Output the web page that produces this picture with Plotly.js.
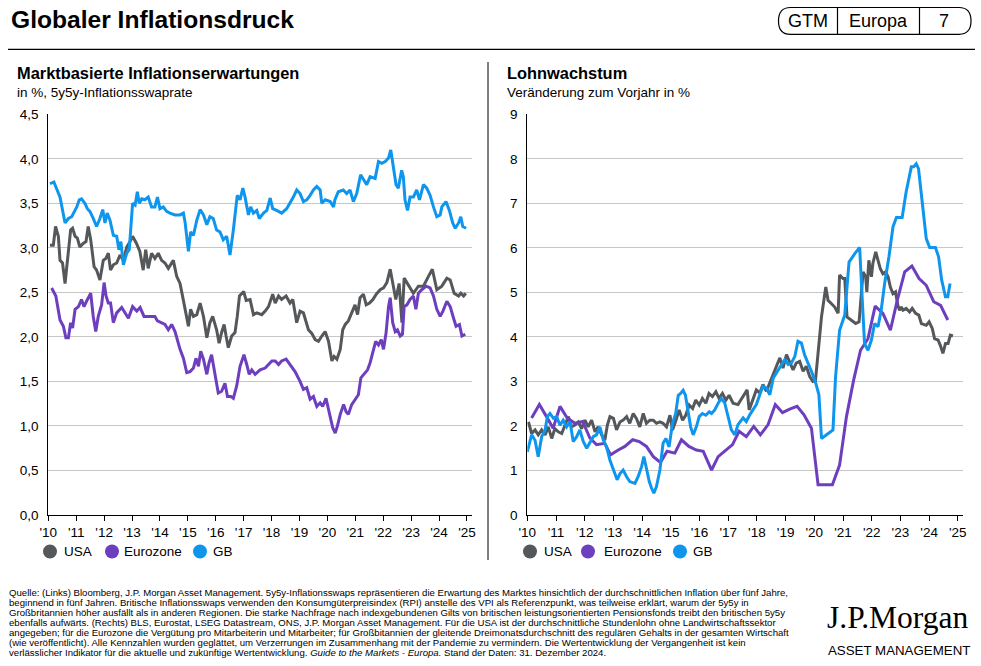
<!DOCTYPE html>
<html><head><meta charset="utf-8">
<script src="https://cdn.plot.ly/plotly-3.0.1.min.js"></script>
<style>html,body{margin:0;padding:0;background:#fff}#chart{width:981px;height:666px}</style>
</head><body><div id="chart"></div>
<script>
// ---------- tick labels ----------
const tickYears = [2010,2011,2012,2013,2014,2015,2016,2017,2018,2019,2020,2021,2022,2023,2024,2025];
const tickLabels = ["'10","'11","'12","'13","'14","'15","'16","'17","'18","'19","'20","'21","'22","'23","'24","'25"];
const seriesNames = ["USA","Eurozone","GB"];

// ---------- Left: 5y5y inflation swap rates (%) ----------
const swapGbX = [2010.06,2010.20,2010.42,2010.60,2010.72,2010.84,2011.02,2011.11,2011.19,2011.31,2011.40,2011.49,2011.61,2011.73,2011.85,2011.95,2012.03,2012.11,2012.21,2012.33,2012.45,2012.53,2012.60,2012.69,2012.81,2012.90,2013.02,2013.11,2013.19,2013.26,2013.35,2013.46,2013.58,2013.70,2013.82,2013.91,2014.00,2014.12,2014.24,2014.36,2014.54,2014.72,2014.84,2014.90,2015.02,2015.10,2015.20,2015.32,2015.44,2015.56,2015.68,2015.79,2015.91,2016.03,2016.15,2016.27,2016.39,2016.51,2016.63,2016.77,2016.87,2016.97,2017.05,2017.17,2017.25,2017.35,2017.47,2017.56,2017.71,2017.83,2017.95,2018.04,2018.18,2018.36,2018.54,2018.66,2018.78,2018.90,2019.02,2019.14,2019.26,2019.38,2019.50,2019.62,2019.74,2019.80,2019.92,2020.10,2020.22,2020.27,2020.39,2020.57,2020.69,2020.81,2020.93,2021.05,2021.19,2021.31,2021.41,2021.53,2021.71,2021.83,2021.95,2022.07,2022.19,2022.27,2022.37,2022.46,2022.54,2022.66,2022.72,2022.78,2022.87,2022.96,2023.08,2023.20,2023.30,2023.44,2023.56,2023.68,2023.80,2023.92,2024.04,2024.10,2024.25,2024.37,2024.49,2024.58,2024.70,2024.78,2024.85,2024.97];
const swapGbY = [3.72,3.74,3.57,3.28,3.33,3.35,3.46,3.54,3.55,3.50,3.44,3.41,3.33,3.24,3.33,3.43,3.28,3.39,3.31,3.14,3.13,2.98,3.07,2.81,2.94,2.98,3.50,3.48,3.63,3.50,3.55,3.54,3.57,3.46,3.46,3.57,3.44,3.46,3.41,3.39,3.37,3.37,3.39,3.29,2.96,3.18,3.14,3.31,3.43,3.37,3.26,3.35,3.33,3.20,3.18,3.09,3.13,2.92,3.20,3.59,3.54,3.67,3.57,3.37,3.46,3.39,3.42,3.33,3.39,3.42,3.56,3.44,3.42,3.39,3.44,3.50,3.57,3.65,3.61,3.52,3.54,3.59,3.65,3.69,3.65,3.50,3.54,3.52,3.46,3.54,3.63,3.65,3.61,3.65,3.52,3.61,3.82,3.76,3.71,3.80,3.78,3.97,3.95,3.97,4.01,4.10,3.87,3.71,3.67,3.87,3.80,3.54,3.42,3.57,3.57,3.65,3.54,3.71,3.67,3.59,3.46,3.35,3.37,3.46,3.52,3.42,3.28,3.22,3.28,3.35,3.24,3.22];

const swapUsaX = [2010.06,2010.18,2010.26,2010.36,2010.42,2010.51,2010.60,2010.72,2010.80,2010.87,2010.96,2011.04,2011.13,2011.25,2011.35,2011.43,2011.52,2011.64,2011.73,2011.85,2011.97,2012.06,2012.15,2012.23,2012.33,2012.45,2012.57,2012.69,2012.81,2012.93,2013.02,2013.16,2013.28,2013.40,2013.49,2013.58,2013.70,2013.82,2013.94,2014.06,2014.18,2014.30,2014.48,2014.60,2014.72,2014.84,2014.96,2015.02,2015.10,2015.20,2015.32,2015.44,2015.56,2015.68,2015.79,2015.89,2016.03,2016.12,2016.21,2016.30,2016.37,2016.45,2016.57,2016.69,2016.77,2016.85,2017.00,2017.09,2017.23,2017.35,2017.47,2017.65,2017.77,2017.89,2018.04,2018.13,2018.25,2018.36,2018.52,2018.66,2018.76,2018.90,2019.02,2019.14,2019.32,2019.44,2019.56,2019.68,2019.80,2019.92,2020.04,2020.16,2020.24,2020.34,2020.46,2020.55,2020.64,2020.75,2020.87,2020.99,2021.08,2021.17,2021.29,2021.39,2021.51,2021.63,2021.75,2021.89,2022.01,2022.13,2022.25,2022.45,2022.57,2022.67,2022.75,2022.91,2023.08,2023.26,2023.44,2023.62,2023.76,2023.92,2024.10,2024.28,2024.40,2024.54,2024.70,2024.78,2024.88,2024.96];
const swapUsaY = [3.03,3.03,3.24,3.13,2.86,2.83,2.60,2.94,3.20,3.22,3.13,3.11,3.01,3.05,3.07,3.24,3.09,2.79,2.75,2.64,2.86,2.88,2.94,2.75,2.81,2.83,2.92,2.86,3.01,3.07,3.13,3.05,2.96,2.75,2.98,2.77,2.94,2.88,2.94,2.86,2.83,2.77,2.86,2.68,2.60,2.41,2.20,2.12,2.31,2.23,2.25,2.38,2.23,1.99,2.16,2.23,2.08,1.93,2.05,2.14,2.01,1.88,2.01,2.05,2.23,2.46,2.51,2.41,2.42,2.25,2.27,2.25,2.29,2.34,2.48,2.38,2.46,2.42,2.46,2.38,2.42,2.16,2.29,2.27,2.08,2.04,1.97,1.95,2.01,2.06,1.95,1.73,1.78,1.75,1.86,2.08,2.14,2.18,2.27,2.36,2.25,2.44,2.48,2.36,2.38,2.42,2.48,2.53,2.55,2.61,2.76,2.42,2.60,2.16,2.66,2.57,2.49,2.57,2.57,2.68,2.76,2.53,2.57,2.66,2.64,2.49,2.46,2.49,2.46,2.49];

const swapEzX = [2010.12,2010.27,2010.42,2010.54,2010.63,2010.72,2010.80,2010.87,2010.96,2011.08,2011.19,2011.28,2011.37,2011.52,2011.61,2011.70,2011.79,2011.91,2012.00,2012.07,2012.15,2012.23,2012.33,2012.45,2012.63,2012.75,2012.87,2013.02,2013.17,2013.29,2013.43,2013.64,2013.82,2013.91,2014.03,2014.18,2014.30,2014.42,2014.54,2014.72,2014.84,2014.96,2015.08,2015.20,2015.29,2015.38,2015.46,2015.56,2015.68,2015.76,2015.85,2015.97,2016.09,2016.21,2016.33,2016.42,2016.54,2016.63,2016.75,2016.87,2017.01,2017.11,2017.20,2017.29,2017.41,2017.59,2017.77,2018.01,2018.13,2018.25,2018.36,2018.52,2018.66,2018.84,2019.02,2019.14,2019.26,2019.38,2019.50,2019.62,2019.74,2019.83,2019.95,2020.07,2020.19,2020.28,2020.36,2020.46,2020.58,2020.67,2020.75,2020.87,2020.99,2021.11,2021.20,2021.32,2021.44,2021.53,2021.63,2021.73,2021.83,2021.93,2022.01,2022.10,2022.19,2022.25,2022.34,2022.43,2022.51,2022.61,2022.69,2022.75,2022.85,2022.96,2023.08,2023.17,2023.26,2023.38,2023.54,2023.68,2023.80,2023.92,2024.04,2024.14,2024.28,2024.40,2024.52,2024.61,2024.73,2024.82,2024.94];
const swapEzY = [2.55,2.46,2.19,2.12,1.99,1.99,2.16,2.10,2.31,2.34,2.42,2.34,2.40,2.49,2.23,2.06,2.23,2.36,2.61,2.46,2.38,2.38,2.16,2.27,2.33,2.27,2.21,2.34,2.29,2.33,2.23,2.23,2.23,2.18,2.16,2.14,2.08,2.14,2.06,1.86,1.76,1.60,1.61,1.65,1.76,1.67,1.84,1.75,1.58,1.71,1.80,1.60,1.37,1.39,1.48,1.33,1.33,1.31,1.45,1.67,1.80,1.69,1.58,1.63,1.58,1.63,1.65,1.73,1.73,1.69,1.73,1.75,1.69,1.61,1.50,1.41,1.43,1.30,1.33,1.22,1.26,1.22,1.31,1.15,0.98,0.92,1.00,1.13,1.24,1.16,1.13,1.24,1.30,1.35,1.54,1.58,1.63,1.71,1.82,1.95,1.91,1.97,1.86,2.04,2.34,2.44,2.16,2.06,2.08,2.01,2.03,2.34,2.36,2.42,2.46,2.31,2.49,2.53,2.57,2.55,2.46,2.31,2.23,2.29,2.40,2.34,2.21,2.12,2.14,2.01,2.03];

// ---------- Right: wage growth (% y/y) ----------
const wageUsaX = [2010.04,2010.15,2010.27,2010.38,2010.50,2010.62,2010.73,2010.85,2010.96,2011.08,2011.20,2011.31,2011.43,2011.54,2011.66,2011.78,2011.89,2012.01,2012.12,2012.24,2012.36,2012.47,2012.59,2012.70,2012.79,2012.88,2013.00,2013.11,2013.23,2013.34,2013.46,2013.57,2013.69,2013.80,2013.92,2014.04,2014.15,2014.27,2014.39,2014.50,2014.62,2014.73,2014.85,2014.97,2015.06,2015.18,2015.29,2015.41,2015.52,2015.64,2015.76,2015.87,2015.99,2016.10,2016.22,2016.33,2016.45,2016.57,2016.68,2016.80,2016.92,2017.03,2017.17,2017.34,2017.52,2017.66,2017.73,2017.87,2017.98,2018.10,2018.21,2018.33,2018.45,2018.57,2018.68,2018.80,2018.91,2019.03,2019.14,2019.26,2019.37,2019.49,2019.61,2019.72,2019.84,2019.95,2020.04,2020.13,2020.25,2020.40,2020.48,2020.59,2020.71,2020.83,2020.88,2021.00,2021.06,2021.14,2021.29,2021.44,2021.56,2021.64,2021.70,2021.79,2021.83,2021.90,2021.99,2022.04,2022.14,2022.22,2022.30,2022.39,2022.48,2022.57,2022.65,2022.74,2022.83,2022.91,2022.97,2023.03,2023.09,2023.20,2023.32,2023.41,2023.53,2023.64,2023.73,2023.90,2024.00,2024.11,2024.19,2024.31,2024.39,2024.48,2024.57,2024.66,2024.74,2024.83];
const wageUsaY = [2.09,1.83,1.91,1.80,1.91,1.80,1.98,1.72,1.94,1.87,1.83,2.02,2.21,1.98,2.02,2.09,1.94,2.13,1.98,2.13,1.87,1.98,1.80,1.68,2.02,2.21,2.17,1.91,2.09,2.13,2.21,2.06,2.28,2.17,1.98,2.28,2.06,2.13,2.13,2.06,2.09,2.06,1.98,2.24,1.91,2.13,2.36,2.13,2.24,2.47,2.39,2.58,2.47,2.62,2.51,2.73,2.66,2.77,2.62,2.73,2.58,2.69,2.51,2.48,2.66,2.81,2.36,2.59,2.81,2.74,2.93,2.78,2.96,3.15,3.34,3.53,3.30,3.60,3.45,3.26,3.41,3.45,3.23,3.34,3.11,3.00,3.02,3.70,4.45,5.12,4.82,4.75,4.67,4.53,5.39,5.31,5.31,4.45,4.38,4.30,4.34,5.05,5.46,5.35,5.01,5.72,5.35,5.65,5.91,5.72,5.53,5.42,5.46,5.35,5.12,4.97,5.01,4.71,4.60,4.67,4.60,4.64,4.56,4.64,4.53,4.49,4.30,4.26,4.34,4.19,3.96,3.93,3.81,3.63,3.85,3.85,4.04,4.02];

const wageEzX = [2010.15,2010.42,2010.67,2010.90,2011.14,2011.39,2011.66,2011.93,2012.18,2012.41,2012.70,2012.90,2013.17,2013.40,2013.67,2013.90,2014.15,2014.39,2014.64,2014.87,2015.14,2015.37,2015.63,2015.89,2016.13,2016.42,2016.65,2016.88,2017.15,2017.38,2017.63,2017.89,2018.12,2018.39,2018.64,2018.89,2019.14,2019.40,2019.64,2019.90,2020.13,2020.36,2020.63,2020.88,2021.12,2021.37,2021.61,2021.87,2022.12,2022.39,2022.65,2022.89,2023.15,2023.40,2023.65,2023.90,2024.16,2024.40,2024.65];
const wageEzY = [2.18,2.48,2.21,1.95,2.44,2.18,2.06,2.10,1.73,1.58,1.61,1.35,1.46,1.54,1.69,1.65,1.54,1.31,1.18,1.43,1.39,1.69,1.54,1.46,1.43,1.01,1.31,1.43,1.58,1.88,1.76,1.99,1.80,2.03,2.48,2.30,2.38,2.44,2.25,1.95,0.68,0.68,0.68,1.12,2.21,3.03,3.70,3.96,4.69,4.53,4.15,4.82,5.46,5.59,5.31,5.16,4.79,4.71,4.38];

const wageGbX = [2010.00,2010.15,2010.27,2010.38,2010.50,2010.62,2010.70,2010.79,2010.91,2011.02,2011.14,2011.25,2011.37,2011.49,2011.60,2011.72,2011.83,2011.95,2012.07,2012.18,2012.30,2012.41,2012.53,2012.65,2012.76,2012.88,2012.99,2013.13,2013.23,2013.34,2013.46,2013.57,2013.75,2013.86,2013.98,2014.06,2014.15,2014.25,2014.33,2014.41,2014.50,2014.62,2014.73,2014.83,2014.94,2015.06,2015.17,2015.26,2015.34,2015.43,2015.51,2015.60,2015.69,2015.78,2015.89,2015.99,2016.10,2016.22,2016.34,2016.42,2016.53,2016.65,2016.76,2016.88,2016.99,2017.11,2017.23,2017.34,2017.52,2017.63,2017.75,2017.87,2017.98,2018.10,2018.21,2018.33,2018.45,2018.57,2018.68,2018.82,2018.97,2019.09,2019.20,2019.32,2019.43,2019.55,2019.66,2019.78,2019.90,2020.05,2020.16,2020.25,2020.65,2020.74,2020.88,2021.06,2021.21,2021.41,2021.58,2021.66,2021.75,2021.87,2021.99,2022.10,2022.22,2022.33,2022.45,2022.60,2022.74,2022.86,2023.06,2023.20,2023.38,2023.46,2023.55,2023.63,2023.76,2023.90,2024.02,2024.22,2024.33,2024.44,2024.57,2024.65,2024.73];
const wageGbY = [1.42,1.80,1.68,1.31,1.76,1.91,2.21,2.28,2.17,2.21,2.02,2.13,1.98,2.09,1.65,1.76,1.91,1.65,1.50,1.61,1.76,1.80,1.98,1.68,1.53,1.23,1.05,0.79,0.93,1.01,0.86,0.75,0.71,0.86,1.08,1.31,1.05,0.75,0.60,0.49,0.64,1.01,1.61,1.72,1.53,2.06,2.28,2.69,2.73,2.80,2.69,2.32,1.98,1.80,1.98,2.21,2.28,2.24,2.32,2.28,2.36,2.51,2.62,2.51,2.21,1.91,1.80,2.03,2.18,2.10,2.25,2.36,2.48,2.70,2.89,2.85,2.70,3.08,3.19,3.34,3.49,3.38,3.41,3.56,3.90,3.86,3.60,3.41,3.23,2.96,2.70,1.72,1.91,3.10,4.15,4.49,5.68,5.87,6.01,4.97,3.85,3.70,3.93,4.30,4.23,4.60,5.20,5.80,6.47,6.68,6.68,7.26,7.82,7.82,7.89,7.78,6.99,6.21,6.01,6.01,5.80,5.27,4.90,4.90,5.20];

const footnoteLines = [
  "Quelle: (Links) Bloomberg, J.P. Morgan Asset Management. 5y5y-Inflationsswaps repräsentieren die Erwartung des Marktes hinsichtlich der durchschnittlichen Inflation über fünf Jahre,",
  "beginnend in fünf Jahren. Britische Inflationsswaps verwenden den Konsumgüterpreisindex (RPI) anstelle des VPI als Referenzpunkt, was teilweise erklärt, warum der 5y5y in",
  "Großbritannien höher ausfällt als in anderen Regionen. Die starke Nachfrage nach indexgebundenen Gilts von britischen leistungsorientierten Pensionsfonds treibt den britischen 5y5y",
  "ebenfalls aufwärts. (Rechts) BLS, Eurostat, LSEG Datastream, ONS, J.P. Morgan Asset Management. Für die USA ist der durchschnittliche Stundenlohn ohne Landwirtschaftssektor",
  "angegeben; für die Eurozone die Vergütung pro Mitarbeiterin und Mitarbeiter; für Großbitannien der gleitende Dreimonatsdurchschnitt des regulären Gehalts in der gesamten Wirtschaft",
  "(wie veröffentlicht). Alle Kennzahlen wurden geglättet, um Verzerrungen im Zusammenhang mit der Pandemie zu vermindern. Die Wertentwicklung der Vergangenheit ist kein",
  "verlässlicher Indikator für die aktuelle und zukünftige Wertentwicklung. <i>Guide to the Markets - Europa.</i> Stand der Daten: 31. Dezember 2024."
];

// ---------- styling / layout ----------
const W = 981, H = 666;
const COL = {USA: '#55585b', Eurozone: '#6d3fbf', GB: '#0e96ee'};
const FONT = 'Liberation Sans, Arial, sans-serif';
const px = x => x / W;
const py = y => 1 - y / H;

function line(x, y, name, xa, ya) {
  return {type: 'scatter', mode: 'lines', x: x, y: y, name: name, xaxis: xa, yaxis: ya,
    line: {color: COL[name], width: 3}, showlegend: false, hoverinfo: 'x+y+name'};
}
const traces = [
  line(swapUsaX, swapUsaY, 'USA', 'x', 'y'),
  line(swapEzX, swapEzY, 'Eurozone', 'x', 'y'),
  line(swapGbX, swapGbY, 'GB', 'x', 'y'),
  line(wageUsaX, wageUsaY, 'USA', 'x2', 'y2'),
  line(wageEzX, wageEzY, 'Eurozone', 'x2', 'y2'),
  line(wageGbX, wageGbY, 'GB', 'x2', 'y2')
];

const tickFont = {family: FONT, size: 13.5, color: '#000'};
function xax(d) {
  return {domain: d, range: [2010, 2025.17], tickmode: 'array', tickvals: tickYears, ticktext: tickLabels,
    showgrid: false, zeroline: false, showline: true, linecolor: '#000', linewidth: 1,
    ticks: 'outside', ticklen: 5, tickcolor: '#000', tickwidth: 1, tickfont: tickFont, fixedrange: true};
}
function yax(r, dt, fmt, anchor) {
  return {domain: [py(515), py(114.3)], range: r, dtick: dt, tick0: 0, tickformat: fmt, anchor: anchor,
    showgrid: true, gridcolor: '#c6c6c6', gridwidth: 1, zeroline: false, showline: true, linecolor: '#000',
    linewidth: 1, ticks: '', tickfont: tickFont, ticklabelstandoff: 6, fixedrange: true};
}

const shapes = [];
const annotations = [];
function ann(text, x, y, size, opts) {
  annotations.push(Object.assign({text: text, x: px(x), y: py(y), xref: 'paper', yref: 'paper',
    xanchor: 'left', yanchor: 'middle', showarrow: false, font: {family: FONT, size: size, color: '#000'}}, opts || {}));
}
function hline(x0, x1, y, w) {
  shapes.push({type: 'line', xref: 'paper', yref: 'paper', x0: px(x0), x1: px(x1), y0: py(y), y1: py(y), line: {color: '#000', width: w || 1}});
}
function vline(x, y0, y1, w) {
  shapes.push({type: 'line', xref: 'paper', yref: 'paper', x0: px(x), x1: px(x), y0: py(y0), y1: py(y1), line: {color: '#000', width: w || 1}});
}

// Title and header badge
ann('<b>Globaler Inflationsdruck</b>', 9, 19.5, 24.6);
hline(8, 975, 49.3, 1.3);
const bx0 = 778.5, bx1 = 971, by0 = 7.5, by1 = 34.3, br = 12;
shapes.push({type: 'path', xref: 'paper', yref: 'paper', line: {color: '#000', width: 1.2},
  path: `M ${px(bx0 + br)},${py(by0)} L ${px(bx1 - br)},${py(by0)} Q ${px(bx1)},${py(by0)} ${px(bx1)},${py((by0 + by1) / 2)} Q ${px(bx1)},${py(by1)} ${px(bx1 - br)},${py(by1)} L ${px(bx0 + br)},${py(by1)} Q ${px(bx0)},${py(by1)} ${px(bx0)},${py((by0 + by1) / 2)} Q ${px(bx0)},${py(by0)} ${px(bx0 + br)},${py(by0)} Z`});
vline(837.5, by0, by1, 1.2);
vline(919.5, by0, by1, 1.2);
ann('GTM', 808, 21, 18, {xanchor: 'center'});
ann('Europa', 878, 21, 18, {xanchor: 'center'});
ann('7', 944, 21, 18, {xanchor: 'center'});

// Panel separator
vline(488, 62, 560, 1);

// Panel titles
ann('<b>Marktbasierte Inflationserwartungen</b>', 15, 73, 16.4);
ann('in %, 5y5y-Inflationsswaprate', 15, 92.5, 13.5);
ann('<b>Lohnwachstum</b>', 505, 73, 16.4);
ann('Veränderung zum Vorjahr in %', 505, 92.5, 13.5);

// Legends (drawn as circle + label)
function legendItem(name, cx, tx, cy) {
  const r = 7;
  shapes.push({type: 'circle', xref: 'paper', yref: 'paper', x0: px(cx - r), x1: px(cx + r), y0: py(cy + r), y1: py(cy - r),
    fillcolor: COL[name], line: {width: 0}});
  ann(name, tx, cy, 13.5);
}
const legLeft = [[50, 62], [112, 122], [200, 211]];
const legRight = [[530, 542], [588, 602], [680, 691]];
seriesNames.forEach((n, i) => { legendItem(n, legLeft[i][0], legLeft[i][1], 551.5); legendItem(n, legRight[i][0], legRight[i][1], 551.5); });

// Footnote
footnoteLines.forEach((t, i) => ann(t, 7, 592 + i * 10.1, 9.6));

// Logo
ann('J.P.Morgan', 825, 617, 31.5, {font: {family: 'Liberation Serif, Times New Roman, serif', size: 31.5, color: '#000'}});
ann('ASSET MANAGEMENT', 826, 650, 13.3, {font: {family: FONT, size: 13.3, color: '#000'}});

const layout = {
  width: W, height: H, margin: {l: 0, r: 0, t: 0, b: 0}, autosize: false,
  paper_bgcolor: '#fff', plot_bgcolor: '#fff', separators: ',.', showlegend: false,
  font: {family: FONT, size: 13.5, color: '#000'},
  xaxis: Object.assign(xax([px(48.3), px(471.7)]), {anchor: 'y'}),
  yaxis: yax([0, 4.5], 0.5, '.1f', 'x'),
  xaxis2: Object.assign(xax([px(527.3), px(962.7)]), {anchor: 'y2'}),
  yaxis2: yax([0, 9], 1, 'd', 'x2'),
  shapes: shapes, annotations: annotations
};

Plotly.newPlot('chart', traces, layout, {displayModeBar: false, staticPlot: true});
</script></body></html>
